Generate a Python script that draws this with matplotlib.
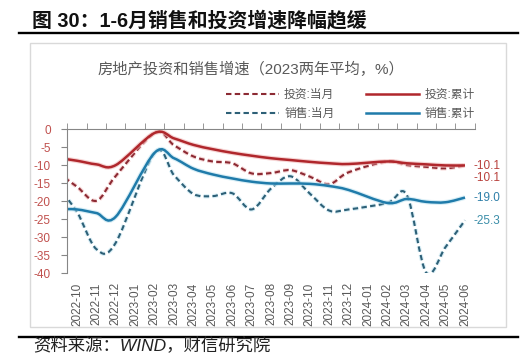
import numpy as np
import matplotlib
matplotlib.use("Agg")
import matplotlib.pyplot as plt
import matplotlib.patheffects as pe
from matplotlib.path import Path
from matplotlib.patches import PathPatch, Rectangle
from matplotlib.lines import Line2D

plt.rcParams['font.family'] = ['Liberation Sans', 'Noto Sans CJK SC', 'DejaVu Sans']
plt.rcParams['axes.unicode_minus'] = False

nan = np.nan

# first month (2022-09) sits left of the axis and is only seen as the clipped start of the lines
months = ['2022-09', '2022-10', '2022-11', '2022-12',
          '2023-01', '2023-02', '2023-03', '2023-04', '2023-05', '2023-06',
          '2023-07', '2023-08', '2023-09', '2023-10', '2023-11', '2023-12',
          '2024-01', '2024-02', '2024-03', '2024-04', '2024-05', '2024-06']
inv_month = [-12.1, -16.0, -19.9, -13.0, nan, -1.1, -4.5, -7.6, -9.0, -9.5, -12.3,
             -12.2, -11.4, -13.2, -15.3, -12.0, nan, -9.0, -10.0, -10.5, -10.9, -10.1]
inv_total = [-8.0, -8.8, -9.8, -10.0, nan, -1.1, -2.6, -4.4, -5.6, -6.6, -7.4,
             -8.1, -8.6, -9.1, -9.5, -9.7, nan, -9.0, -9.5, -9.8, -10.1, -10.1]
sales_month = [-16.0, -23.0, -33.3, -31.5, nan, -6.6, -12.8, -18.0, -18.6, -17.8, -22.3,
               -16.5, -13.1, -17.9, -22.6, -22.3, nan, -20.5, -18.3, -39.8, -32.7, -25.3]
sales_total = [-22.2, -22.3, -23.3, -24.3, nan, -6.6, -8.1, -11.0, -12.6, -13.7, -14.6,
               -15.1, -15.1, -15.2, -15.8, -16.9, nan, -20.5, -19.4, -20.2, -20.3, -19.0]
labels = ['投资:当月', '销售:当月', '投资:累计', '销售:累计']

RED = '#B0272C'
RED_DASH = '#8C2A33'
BLUE = '#1F7BAA'
BLUE_DASH = '#2D6077'
GREY = '#595959'


def smooth_path(ys):
    # excel style smoothed line, skips the missing january values
    x = np.arange(len(ys)) - 1
    pts = np.array([(xi, yi) for xi, yi in zip(x, ys) if not np.isnan(yi)], dtype=float)
    n = len(pts)
    verts = [pts[0]]
    codes = [Path.MOVETO]
    for i in range(n - 1):
        p0 = pts[max(i - 1, 0)]
        p1 = pts[i]
        p2 = pts[i + 1]
        p3 = pts[min(i + 2, n - 1)]
        verts += [p1 + (p2 - p0) / 6, p2 - (p3 - p1) / 6, p2]
        codes += [Path.CURVE4] * 3
    return Path(verts, codes)


def draw(ax, ys, color, glow, dashed):
    ls = (0, (2.6, 1.6)) if dashed else '-'
    lw = 1.5 if dashed else 1.8
    patch = PathPatch(smooth_path(ys), fill=False, edgecolor=color, lw=lw, linestyle=ls,
                      capstyle='butt', joinstyle='round')
    patch.set_path_effects([pe.Stroke(linewidth=lw + 1.6, foreground=glow, alpha=0.6), pe.Normal()])
    ax.add_patch(patch)
    return Line2D([], [], color=color, lw=lw, linestyle=ls)


fig = plt.figure(figsize=(5.32, 3.55), dpi=100)

fig.text(0.061, 0.943, '图 30：1-6月销售和投资增速降幅趋缓', fontsize=14.3, fontweight='bold',
         va='center', ha='left', color='#111111')
fig.add_artist(Line2D([0.035, 0.974], [0.907, 0.907], color='black', lw=1.7))
fig.add_artist(Line2D([0.035, 0.974], [0.050, 0.050], color='black', lw=1.7))
fig.add_artist(Rectangle((0.0564, 0.0775), 0.8956, 0.8019, fill=False, edgecolor='#d9d9d9', lw=1))
fig.text(0.063, 0.004, '资料来源：WIND，财信研究院', fontsize=12.5, style='italic',
         va='bottom', ha='left', color='#222222')
fig.text(0.4718, 0.805, '房地产投资和销售增速（2023两年平均，%）', fontsize=11,
         va='center', ha='center', color=GREY)

ax = fig.add_axes([0.1265, 0.2301, 0.7658, 0.4065])

h1 = draw(ax, inv_month, RED_DASH, '#f0b8b8', True)
h2 = draw(ax, sales_month, BLUE_DASH, '#bfe3f0', True)
h3 = draw(ax, inv_total, RED, '#f0b8b8', False)
h4 = draw(ax, sales_total, BLUE, '#bfe3f0', False)

ax.set_xlim(-0.5, len(months) - 1.5)
ax.set_ylim(-40, 0)
ax.set_xticks(np.arange(len(months) - 1))
ax.set_xticklabels(months[1:], rotation=90, fontsize=8.5, color=GREY)
ax.set_xticks(np.arange(len(months)) - 0.5, minor=True)
ax.set_yticks(np.arange(-40, 1, 5))
ax.set_yticklabels([str(v) for v in range(-40, 1, 5)], fontsize=8.5, color='#C0504D')

ax.tick_params(axis='x', which='major', length=0, bottom=False, top=False, pad=6.5)
ax.tick_params(axis='x', which='minor', bottom=False, top=True, direction='out',
               length=4, color='#868686')
ax.tick_params(axis='y', direction='out', length=4, color='#868686', pad=8)
for side in ['bottom', 'right']:
    ax.spines[side].set_visible(False)
for side in ['top', 'left']:
    ax.spines[side].set_color('#868686')
ax.patch.set_alpha(0)

last = len(months) - 2
ax.annotate(f'{inv_total[-1]:.1f}', (last, inv_total[-1]), xytext=(6, -0.5),
            textcoords='offset points', va='center', fontsize=8.5, color='#B8403C')
ax.annotate(f'{inv_month[-1]:.1f}', (last, inv_month[-1]), xytext=(6, -8.8),
            textcoords='offset points', va='center', fontsize=8.5, color='#B8403C')
ax.annotate(f'{sales_total[-1]:.1f}', (last, sales_total[-1]), xytext=(6, -0.5),
            textcoords='offset points', va='center', fontsize=8.5, color='#2E7FA8')
ax.annotate(f'{sales_month[-1]:.1f}', (last, sales_month[-1]), xytext=(6, -0.5),
            textcoords='offset points', va='center', fontsize=8.5, color='#3A8DA8')

fig.legend([h1, h2, h3, h4], labels, ncol=2, frameon=False, loc='upper left',
           bbox_to_anchor=(0.4248, 0.749), borderaxespad=0, borderpad=0,
           handlelength=4.5, handletextpad=0.42, columnspacing=2.7, labelspacing=0.6,
           prop={'size': 8.5}, labelcolor=GREY)

fig.savefig('out.png', dpi=100)
